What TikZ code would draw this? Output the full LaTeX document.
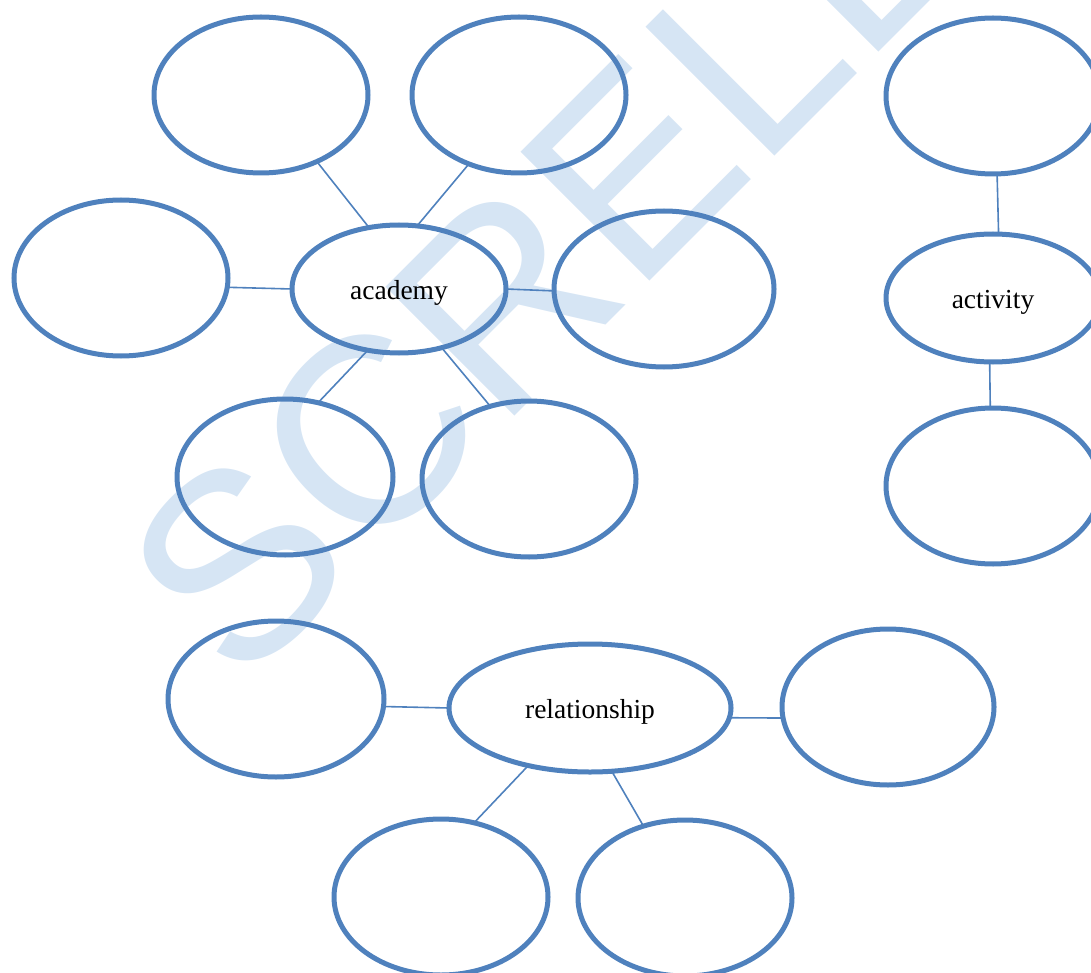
\documentclass[tikz,border=0pt]{standalone}
\usepackage{fontspec}
\setmainfont{Liberation Serif}
\newfontfamily\wmfont{Liberation Sans}
\usetikzlibrary{shapes.geometric}
\definecolor{ebl}{RGB}{79,129,189}
\definecolor{wmc}{RGB}{214,229,244}
\tikzset{
  bub/.style={ellipse, draw=ebl, line width=5pt, inner sep=0pt, outer sep=0pt,
    minimum width=214pt, minimum height=156pt, font=\fontsize{27.5}{30}\selectfont},
  hub/.style={bub, minimum height=128pt, text height=20.5pt, text depth=0pt},
  link/.style={draw=ebl, line width=1.6pt}
}
\begin{document}
\begin{tikzpicture}[x=1pt,y=-1pt]
\useasboundingbox (0,0) rectangle (1091,973);
% watermark
\node[anchor=base west, rotate=45, inner sep=0pt, text=wmc,
  font=\wmfont\fontsize{265}{265}\selectfont] (wm) at (239,692) {SCRELE};
% academy cluster
\node[bub] (e1) at (261,95) {};
\node[bub] (e2) at (519,95) {};
\node[bub] (e4) at (121,278) {};
\node[hub] (ac) at (399,289) {academy};
\node[bub, minimum width=220pt] (e5) at (664,289) {};
\node[bub, minimum width=216pt] (e6) at (285,477) {};
\node[bub] (e7) at (529,479) {};
% activity cluster
\node[bub] (e3) at (993,96) {};
\node[hub] (act) at (993,298) {activity};
\node[bub] (e8) at (993,486) {};
% relationship cluster
\node[bub, minimum width=216pt] (e9) at (276,699) {};
\node[hub, minimum width=282pt] (rel) at (590,708) {relationship};
\node[bub, minimum width=212pt] (e10) at (888,707) {};
\node[bub] (e11) at (441,897) {};
\node[bub] (e12) at (685,898) {};
% connectors
\draw[link] (e1.-50) -- (ac.116.6);
\draw[link] (e2.234.5) -- (ac.74.3);
\draw[link] (e4.-5) -- (ac.180);
\draw[link] (ac.-0.5) -- (e5.181.5);
\draw[link] (ac.243) -- (e6.66.8);
\draw[link] (ac.-54.7) -- (e7.118.7);
\draw[link] (e3.-87) -- (act.85.6);
\draw[link] (act.267) -- (e8.92);
\draw[link] (e9.-4.7) -- (rel.180);
\draw[link] (rel.-4) -- (e10.186);
\draw[link] (rel.223) -- (e11.66.9);
\draw[link] (rel.-71) -- (e12.120.5);
\end{tikzpicture}
\end{document}
